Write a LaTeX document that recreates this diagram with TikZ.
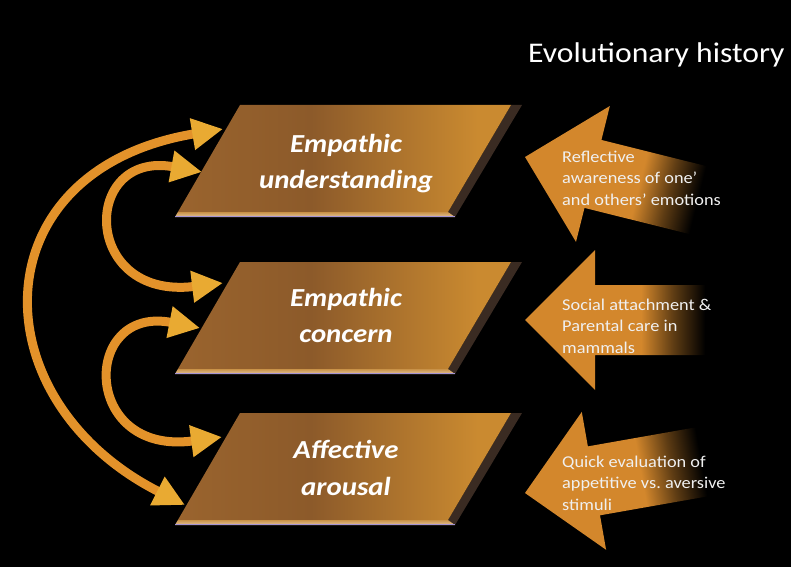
\documentclass[tikz,border=0pt]{standalone}
\usepackage{fontspec}
\setmainfont{Carlito}[FakeStretch=1.11]
\usetikzlibrary{arrows.meta}
\frenchspacing
\definecolor{bxL}{HTML}{9A642E}
\definecolor{bxM}{HTML}{8C5A2A}
\definecolor{bxR}{HTML}{CA8A30}
\definecolor{bxDark}{HTML}{3A2B22}
\definecolor{bxBand}{HTML}{C99248}
\definecolor{bxLine}{HTML}{A494D4}
\definecolor{arrOr}{HTML}{D3872C}
\definecolor{crvOr}{HTML}{E3922A}
\definecolor{crvTip}{HTML}{E9AA32}
\pgfdeclarehorizontalshading{boxshade}{100bp}{color(0bp)=(bxL); color(25bp)=(bxL); color(45bp)=(bxM); color(70bp)=(bxR); color(100bp)=(bxR)}
\pgfdeclarehorizontalshading{fadeshade}{100bp}{color(0bp)=(arrOr); color(25bp)=(arrOr); color(54bp)=(arrOr); color(62bp)=(arrOr!45!black); color(70bp)=(black); color(100bp)=(black)}
\tikzset{
  boxtext/.style={text=white, align=center, inner sep=0pt, font=\fontsize{26}{36.5}\selectfont\bfseries\itshape},
  sidetext/.style={text=white!94!black, align=left, anchor=west, inner sep=0pt, font=\fontsize{16.5}{21.5}\selectfont},
  curvearrow/.style={line width=9pt, draw=crvOr, line cap=butt,
    arrows={Triangle[length=31pt,width=30pt,color=crvTip]-Triangle[length=31pt,width=30pt,color=crvTip]}},
}
\newcommand\empbox[1]{%
  \begin{scope}[shift={(0,#1)}]
    \fill[bxDark] (511,0) -- (522,0) -- (455,112) -- (448,107) -- cycle;
    \shade[shading=boxshade] (240,0) -- (511,0) -- (448,107) -- (177.9,107) -- cycle;
    \shade[top color=bxBand, bottom color=bxBand!55!white] (177.9,107) -- (448,107) -- (455,112) -- (175,112) -- cycle;
    \draw[bxLine, line width=1.5pt] (175,111.5) -- (455,111.5);
  \end{scope}}
\newcommand\sidearrow[2]{%
  \begin{scope}[shift={#1}, rotate=#2]
    \shade[shading=fadeshade, shading angle=#2] (0,0) -- (70,-70) -- (70,-35) -- (200,-35) -- (200,35) -- (70,35) -- (70,70) -- cycle;
  \end{scope}}
\begin{document}
\begin{tikzpicture}[x=1pt, y=-1pt]
  \fill[black] (0,0) rectangle (791,567);
  \useasboundingbox (0,0) rectangle (791,567);

  \node[anchor=base west, inner sep=0pt, text=white, font=\fontsize{28.5}{34}\selectfont] (title) at (528,63) {Evolutionary history};

  \empbox{105}
  \empbox{262}
  \empbox{413}

  \node[boxtext] (eu) at (346,163.5) {Empathic\\understanding};
  \node[boxtext] (ec) at (346,315.7) {Empathic\\concern};
  \node[boxtext] (aa) at (346,468) {Affective\\arousal};

  \sidearrow{(525,157)}{-14}
  \sidearrow{(525,320)}{0}
  \sidearrow{(525,493)}{10}

  \node[sidetext] (t1) at (562,178) {Reflective\\awareness of one’\\and others’ emotions};
  \node[sidetext] (t2) at (562,326) {Social attachment \&\\Parental care in\\mammals};
  \node[sidetext] (t3) at (562,483) {Quick evaluation of\\appetitive vs.\ aversive\\stimuli};

  \coordinate (o1) at (223,129);
  \coordinate (o3) at (185,505);
  \coordinate (i1a) at (202,172);
  \coordinate (i2a) at (223,283);
  \coordinate (i2b) at (200,328);
  \coordinate (i3b) at (222,437);

  \draw[curvearrow] (o1) .. controls (-22,170) and (-22,400) .. (o3);
  \draw[curvearrow] (i1a) .. controls (81,150) and (81,300) .. (i2a);
  \draw[curvearrow] (i2b) .. controls (81,305) and (81,456) .. (i3b);
\end{tikzpicture}
\end{document}
